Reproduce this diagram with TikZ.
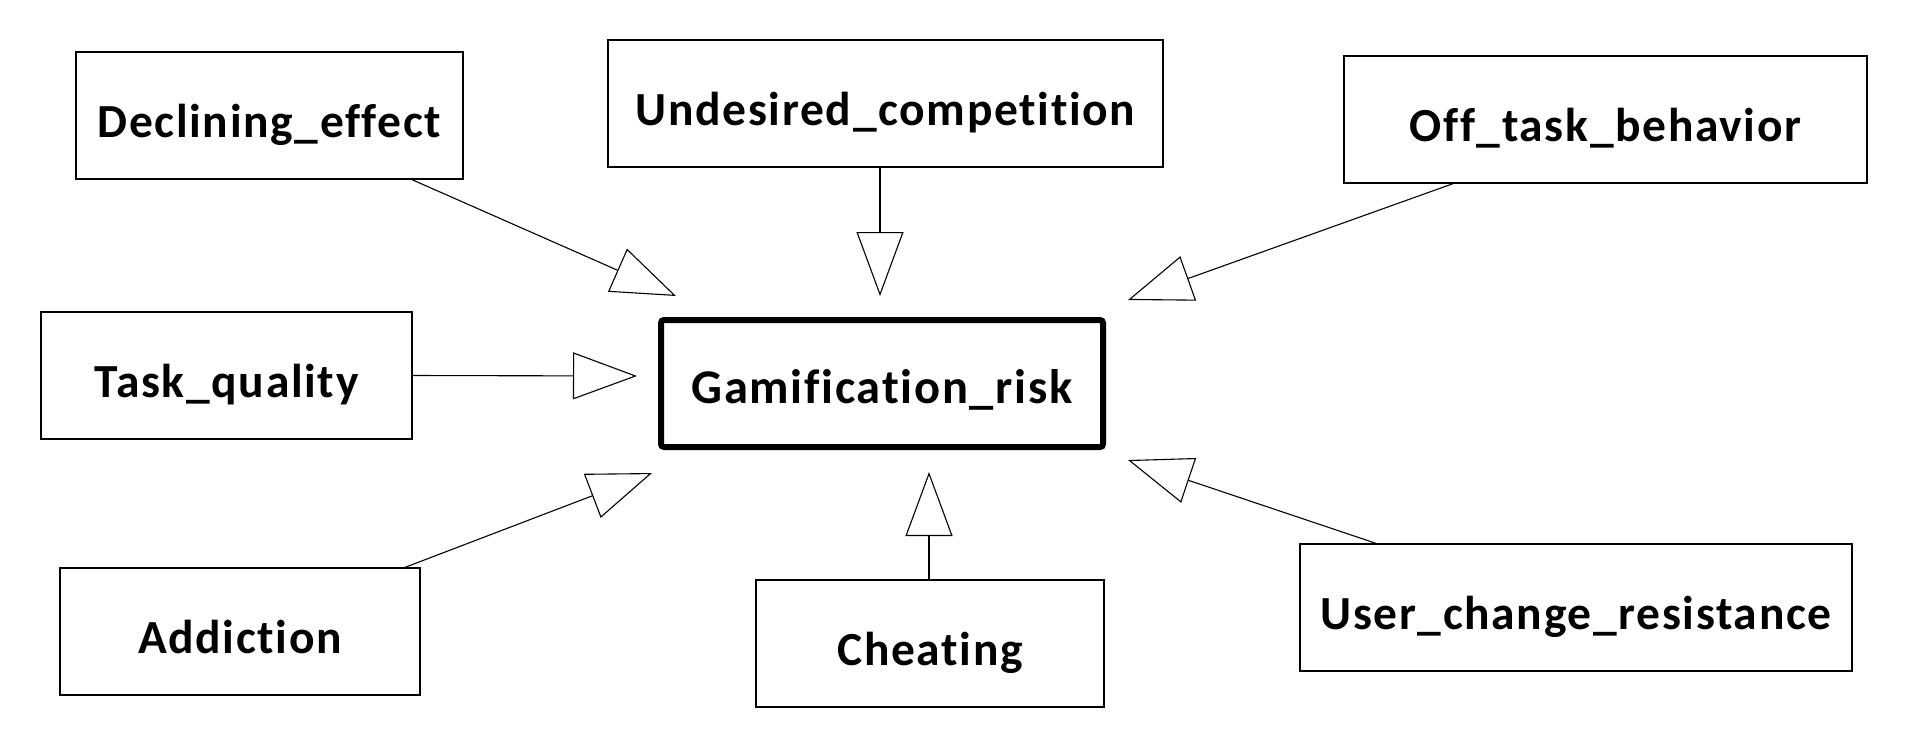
\documentclass[tikz,border=0pt]{standalone}
\usepackage{fontspec}
\setmainfont[Ligatures=NoCommon, LetterSpace=3.5]{Carlito}
\usetikzlibrary{arrows.meta}
\tikzset{
  factor/.style={draw=black, line width=1.3pt, minimum height=127pt, inner sep=0pt,
    text height=43pt, text depth=0pt,
    font=\fontsize{47.5}{56}\selectfont\bfseries},
  riskbox/.style={draw=black, line width=6pt, rounded corners=3pt, minimum height=127pt, inner sep=0pt,
    text height=40pt, text depth=0pt,
    font=\fontsize{48.5}{58}\selectfont\bfseries},
  link/.style={draw=black, line width=1.1pt, -{Triangle[open, length=64pt, width=47pt, line width=1.1pt]}}
}
\begin{document}
\begin{tikzpicture}[x=1pt, y=-1pt]
\useasboundingbox[fill=white] (0,0) rectangle (1908,748);
% nodes
\node[factor, minimum width=387pt] (decl)  at (269.5,115.5) {Declining\_effect};
\node[factor, minimum width=555pt] (undes) at (885.5,103.5) {Undesired\_competition};
\node[factor, minimum width=523pt] (offt)  at (1605.5,119.5) {Off\_task\_behavior};
\node[factor, minimum width=371pt] (taskq) at (226.5,375.5) {Task\_quality};
\node[riskbox, minimum width=442pt] (gami) at (882,383.5) {Gamification\_risk};
\node[factor, minimum width=360pt] (addic) at (240,631.5) {Addiction};
\node[factor, minimum width=348pt] (cheat) at (930,643.5) {Cheating};
\node[factor, minimum width=552pt] (user)  at (1576,607.5) {User\_change\_resistance};
% arrow tips near the central box
\coordinate (t1) at (676,296);
\coordinate (t2) at (880,296);
\coordinate (t3) at (1128,300);
\coordinate (t4) at (637,376);
\coordinate (t5) at (652,473);
\coordinate (t6) at (929,472);
\coordinate (t7) at (1128,460);
% connectors
\draw[link] ([xshift=142.5pt]decl.south) -- (t1);
\draw[link] ([xshift=-5.5pt]undes.south) -- (t2);
\draw[link] ([xshift=-152.5pt]offt.south) -- (t3);
\draw[link] (taskq.east) -- (t4);
\draw[link] ([xshift=165pt]addic.north) -- (t5);
\draw[link] ([xshift=-1pt]cheat.north) -- (t6);
\draw[link] ([xshift=-200pt]user.north) -- (t7);
\end{tikzpicture}
\end{document}
